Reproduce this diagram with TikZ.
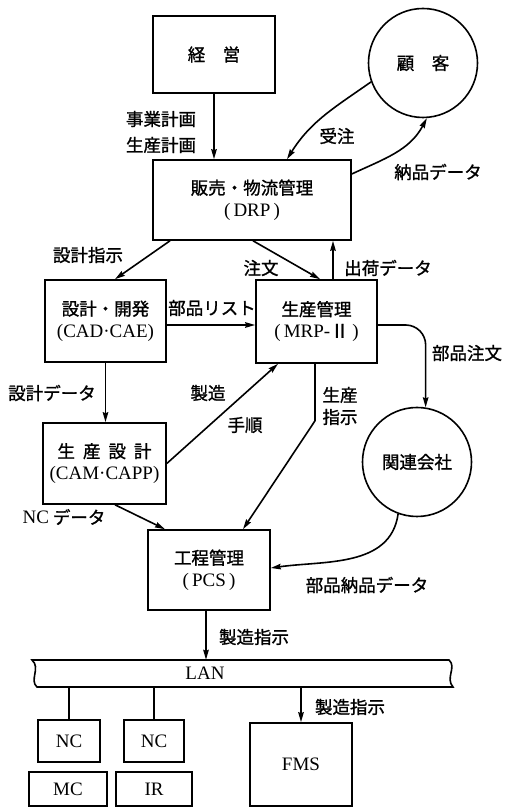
\documentclass[tikz,border=0pt]{standalone}
\usepackage{fontspec}
\setmainfont{Liberation Serif}
\newfontfamily\jp[FakeBold=1.2]{Noto Sans CJK JP}
\usetikzlibrary{arrows.meta}
\begin{document}
\begin{tikzpicture}[x=1pt,y=1pt,
  box/.style={draw,line width=1.6pt,rectangle,inner sep=0pt,align=center,font=\fontsize{19}{22}\selectfont},
  circ/.style={draw,line width=1.6pt,circle,inner sep=0pt,minimum size=109pt,font=\jp\fontsize{17.5}{22}\selectfont},
  lbl/.style={font=\jp\fontsize{17.5}{22}\selectfont,inner sep=0pt,align=center},
  arr/.style={line width=1.6pt,-{Stealth[length=10pt,width=5.5pt,inset=1pt]}},
  ln/.style={line width=1.6pt}]
\useasboundingbox (0,0) rectangle (507,808);

% boxes and circles
\node[box,minimum width=122pt,minimum height=77pt] (keiei) at (214,753.5) {{\jp\fontsize{17.5}{22}\selectfont 経　営}};
\node[circ] (kokyaku) at (423,745) {顧　客};
\node[box,minimum width=198pt,minimum height=80pt] (hanbai) at (252,608) {{\jp\fontsize{17.5}{22}\selectfont 販売・物流管理}\\(\,DRP\,)};
\node[box,minimum width=121pt,minimum height=82pt] (sekkei) at (105.5,487) {{\jp\fontsize{17.5}{22}\selectfont 設計・開発}\\(CAD·CAE)};
\node[box,minimum width=121pt,minimum height=83pt] (seisan) at (316.5,486.5) {{\jp\fontsize{17.5}{22}\selectfont 生産管理}\\(\,MRP-{\jp Ⅱ}\,)};
\node[box,minimum width=123pt,minimum height=81pt] (seisansekkei) at (104.5,344.5) {{\jp\fontsize{17.5}{22}\selectfont 生\hspace{8pt}産\hspace{8pt}設\hspace{8pt}計}\\(CAM·CAPP)};
\node[circ] (kanren) at (417,346) {関連会社};
\node[box,minimum width=122pt,minimum height=80pt] (koutei) at (209,238) {{\jp\fontsize{17.5}{22}\selectfont 工程管理}\\(\,PCS\,)};

% LAN band
\node[minimum width=421pt,minimum height=27pt,inner sep=0pt] (lan) at (242.5,134.5) {};
\draw[ln] (32,148) -- (449,148) .. controls (457,141) and (445,130) .. (453,121)
  -- (37,121) .. controls (29,128) and (41,140) .. (32,148) -- cycle;
\node[font=\fontsize{19}{20}\selectfont] (lanlbl) at (205,134.5) {LAN};

\node[box,minimum width=62pt,minimum height=42pt] (nc1) at (69,67) {NC};
\node[box,minimum width=60pt,minimum height=42pt] (nc2) at (154,67) {NC};
\node[box,minimum width=78pt,minimum height=34pt] (mc) at (68,19) {MC};
\node[box,minimum width=76pt,minimum height=34pt] (ir) at (154,19) {IR};
\node[box,minimum width=102pt,minimum height=83pt] (fms) at (301,43.5) {FMS};

% connectors
\draw[arr] (keiei.south) -- (keiei.south |- hanbai.north);
\draw[arr] (kokyaku.200) to[out=215,in=58] ([xshift=35pt]hanbai.north);
\draw[arr] ([yshift=26pt]hanbai.east) to[out=25,in=242] (kokyaku.274);
\draw[arr] ([xshift=-82pt]hanbai.south) -- ([xshift=9.5pt]sekkei.north);
\draw[arr] ([xshift=1pt]hanbai.south) -- ([xshift=3.5pt]seisan.north);
\coordinate (sh) at ([xshift=16.5pt]seisan.north);
\draw[arr] (sh) -- (sh |- hanbai.south);
\coordinate (pl) at ([yshift=-4pt]sekkei.east);
\draw[arr] (pl) -- (pl -| seisan.west);
\coordinate (po) at ([yshift=-3.5pt]seisan.east);
\draw[arr,rounded corners=20pt] (po) -| (kanren.81);
\draw[arr] (sekkei.south) -- (sekkei.south |- seisansekkei.north);
\draw[arr] (seisansekkei.east) -- ([xshift=-38.5pt]seisan.south);
\coordinate (sp) at ([xshift=-1.5pt]seisan.south);
\draw[arr] (sp) -- ++(0,-57) -- ([xshift=34pt]koutei.north);
\draw[arr] (kanren.250) to[out=-98,in=8] ([yshift=2pt]koutei.east);
\draw[arr] ([xshift=10.5pt]seisansekkei.south) -- ([xshift=-44pt]koutei.north);
\coordinate (kp) at ([xshift=-3pt]koutei.south);
\draw[arr] (kp) -- (kp |- lan.north);
\draw[ln] (lan.south -| nc1.north) -- (nc1.north);
\draw[ln] (lan.south -| nc2.north) -- (nc2.north);
\draw[arr] (lan.south -| fms.north) -- (fms.north);

% labels
\node[lbl,font=\jp\fontsize{17.5}{26}\selectfont] (l1) at (161,676) {事業計画\\生産計画};
\node[lbl] (l2) at (337,672) {受注};
\node[lbl] (l3) at (438,636) {納品データ};
\node[lbl] (l4) at (88,553) {設計指示};
\node[lbl] (l5) at (261,540) {注文};
\node[lbl] (l6) at (388,540) {出荷データ};
\node[lbl] (l7) at (212,500) {部品リスト};
\node[lbl] (l8) at (467,455) {部品注文};
\node[lbl] (l9) at (52,415) {設計データ};
\node[lbl] (l10) at (208,415) {製造};
\node[lbl] (l11) at (245,383) {手順};
\node[lbl] (l12) at (340,402) {生産\\指示};
\node[lbl] (l13) at (64,291) {{\fontspec{Liberation Serif}\fontsize{19}{22}\selectfont NC} データ};
\node[lbl] (l14) at (367,223) {部品納品データ};
\node[lbl] (l15) at (254,171) {製造指示};
\node[lbl] (l16) at (350,101) {製造指示};
\end{tikzpicture}
\end{document}
